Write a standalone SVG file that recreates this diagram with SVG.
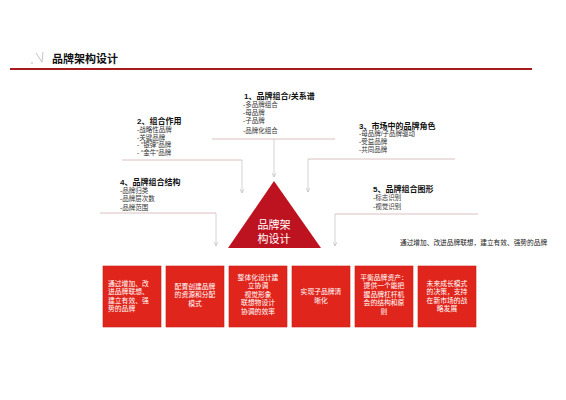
<svg xmlns="http://www.w3.org/2000/svg" width="566" height="400" viewBox="0 0 566 400">
<style>
text{font-family:"Liberation Sans","Noto Sans CJK SC",sans-serif;}
.t{font-size:8px;font-weight:bold;fill:#111;}
.i{font-size:6.5px;fill:#333;}
.b{font-size:6.8px;fill:#fff;text-anchor:middle;}
.box{fill:#e0261c;stroke:#c81d12;stroke-width:0.6;}
.h{stroke:#d6b9b9;stroke-width:0.9;fill:none;}
.v{stroke:#c9c9c9;stroke-width:0.8;fill:none;marker-end:url(#ah);}
</style>
<defs>
<marker id="ah" viewBox="0 0 6 6" refX="6" refY="3" markerWidth="4" markerHeight="4" orient="auto" markerUnits="userSpaceOnUse">
<path d="M0,0 L6,3 L0,6" fill="none" stroke="#bbb" stroke-width="1"/>
</marker>
</defs>
<rect width="566" height="400" fill="#fff"/>
<g id="header">
<path d="M36,53 L42,62 L43,52" fill="none" stroke="#aaa" stroke-width="0.7"/>
<circle cx="32" cy="63" r="0.7" fill="#999"/>
<text x="52" y="63" style="font-size:11px;font-weight:bold;fill:#111;">品牌架构设计</text>
<line x1="10" y1="69" x2="532" y2="69" stroke="#a81a1e" stroke-width="2"/>
</g>
<g id="connectors">
<line class="h" x1="212" y1="139" x2="335" y2="139"/>
<line class="v" x1="274" y1="139" x2="274" y2="177"/>
<line class="h" x1="122" y1="160" x2="242" y2="160"/>
<line class="v" x1="242" y1="160" x2="242" y2="193"/>
<line class="h" x1="308" y1="159" x2="455" y2="159"/>
<line class="v" x1="308" y1="159" x2="308" y2="192"/>
<line class="h" x1="100" y1="213" x2="216" y2="213"/>
<line class="v" x1="216" y1="213" x2="216" y2="246"/>
<line class="h" x1="335" y1="214" x2="478" y2="214"/>
<line class="v" x1="335" y1="214" x2="335" y2="246"/>
</g>
<g id="group1">
<text class="t" x="244" y="99">1、品牌组合/关系谱</text>
<text class="i" x="243" y="106.5">-多品牌组合</text>
<text class="i" x="243" y="115">-母品牌</text>
<text class="i" x="243" y="122.5">-子品牌</text>
<text class="i" x="243" y="133">-品牌化组合</text>
</g>
<g id="group2">
<text class="t" x="137" y="124">2、组合作用</text>
<text class="i" x="137" y="132">-战略性品牌</text>
<text class="i" x="137" y="139.5">-关键品牌</text>
<text class="i" x="137" y="147">- “银弹”品牌</text>
<text class="i" x="137" y="155">- “金牛”品牌</text>
</g>
<g id="group3">
<text class="t" x="359" y="128.5">3、市场中的品牌角色</text>
<text class="i" x="359" y="135.5">-母品牌/子品牌驱动</text>
<text class="i" x="359" y="144">-受益品牌</text>
<text class="i" x="359" y="152">-共同品牌</text>
</g>
<g id="group4">
<text class="t" x="120" y="185">4、品牌组合结构</text>
<text class="i" x="120" y="192.5">-品牌归类</text>
<text class="i" x="120" y="201">-品牌层次数</text>
<text class="i" x="120" y="210">-品牌范围</text>
</g>
<g id="group5">
<text class="t" x="373" y="192">5、品牌组合图形</text>
<text class="i" x="373" y="199.5">-标志识别</text>
<text class="i" x="373" y="208.5">-视觉识别</text>
</g>
<g id="note">
<text x="400" y="244.5" style="font-size:6.7px;fill:#222;">通过增加、改进品牌联想，建立有效、强势的品牌</text>
</g>
<g id="core">
<polygon points="274,181 228,248 321,248" fill="#bd1320"/>
<text x="274" y="229" style="font-size:11px;fill:#fff;text-anchor:middle;">品牌架</text>
<text x="274" y="243" style="font-size:11px;fill:#fff;text-anchor:middle;">构设计</text>
</g>
<g id="box1">
<rect class="box" x="103" y="266" width="58" height="61"/>
<text class="b" x="108" y="285.5" style="text-anchor:start">通过增加、改</text>
<text class="b" x="108" y="294" style="text-anchor:start">进品牌联想、</text>
<text class="b" x="108" y="302.5" style="text-anchor:start">建立有效、强</text>
<text class="b" x="108" y="311" style="text-anchor:start">势的品牌</text>
</g>
<g id="box2">
<rect class="box" x="166" y="266" width="58" height="61"/>
<text class="b" x="195" y="288.5">配置创建品牌</text>
<text class="b" x="195" y="297">的资源和分配</text>
<text class="b" x="195" y="305.5">模式</text>
</g>
<g id="box3">
<rect class="box" x="229" y="266" width="58" height="61"/>
<text class="b" x="258" y="279.5">整体化设计建</text>
<text class="b" x="258" y="288">立协调</text>
<text class="b" x="258" y="296.5">视觉形象</text>
<text class="b" x="258" y="305">联想物设计</text>
<text class="b" x="258" y="313.5">协调的效率</text>
</g>
<g id="box4">
<rect class="box" x="292" y="266" width="58" height="61"/>
<text class="b" x="321" y="294">实现子品牌清</text>
<text class="b" x="321" y="302.5">晰化</text>
</g>
<g id="box5">
<rect class="box" x="355" y="266" width="58" height="61"/>
<text class="b" x="384" y="279.5">平衡品牌资产：</text>
<text class="b" x="384" y="288">提供一个能把</text>
<text class="b" x="384" y="296.5">握品牌杠杆机</text>
<text class="b" x="384" y="305">会的结构和原</text>
<text class="b" x="384" y="313.5">则</text>
</g>
<g id="box6">
<rect class="box" x="418" y="266" width="58" height="61"/>
<text class="b" x="447" y="285.5">未来成长模式</text>
<text class="b" x="447" y="294">的决策，支持</text>
<text class="b" x="447" y="302.5">在新市场的战</text>
<text class="b" x="447" y="311">略发展</text>
</g>
</svg>
